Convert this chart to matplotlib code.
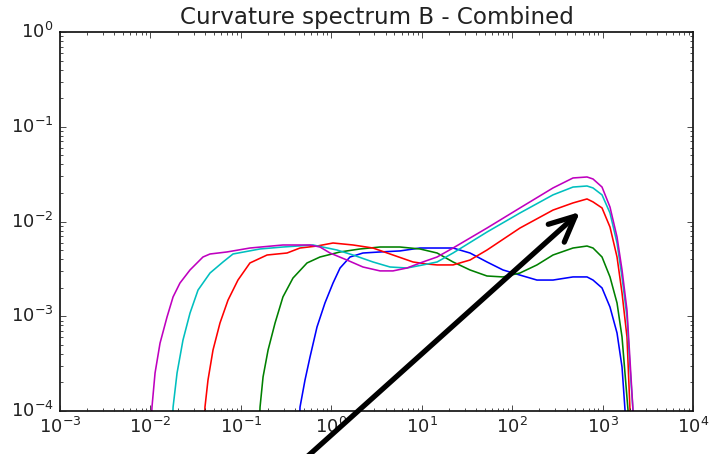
import matplotlib
matplotlib.use('Agg')
import matplotlib.pyplot as plt

# curves (x, spectrum value)
x_b = [0.44, 0.451, 0.512, 0.582, 0.695, 0.851, 1.045, 1.25, 1.61, 2.24, 3.46, 5.75, 9.57,
       14.8, 22.2, 34.2, 52.7, 79.2, 122, 188, 283, 471, 673, 784, 986, 1208, 1445, 1641, 1770, 1820]
y_b = [5e-5, 1.10e-4, 2.12e-4, 3.72e-4, 7.7e-4, 1.38e-3, 2.24e-3, 3.23e-3, 4.22e-3, 4.65e-3, 4.77e-3,
       4.89e-3, 5.25e-3, 5.25e-3, 5.25e-3, 4.65e-3, 3.74e-3, 3.08e-3, 2.72e-3, 2.41e-3, 2.41e-3,
       2.60e-3, 2.60e-3, 2.41e-3, 1.99e-3, 1.25e-3, 6.65e-4, 2.91e-4, 1.03e-4, 5e-5]

x_g = [0.158, 0.163, 0.176, 0.200, 0.239, 0.292, 0.377, 0.539, 0.750, 1.25, 2.08, 3.46, 5.75, 9.57,
       14.8, 22.2, 34.2, 52.7, 79.2, 122, 188, 283, 471, 673, 784, 986, 1208, 1445, 1641, 1910, 1970]
y_g = [5e-5, 1.10e-4, 2.29e-4, 4.4e-4, 8.5e-4, 1.60e-3, 2.53e-3, 3.65e-3, 4.22e-3, 4.77e-3, 5.13e-3,
       5.38e-3, 5.38e-3, 5.13e-3, 4.65e-3, 3.74e-3, 3.08e-3, 2.66e-3, 2.60e-3, 2.86e-3, 3.48e-3,
       4.43e-3, 5.25e-3, 5.51e-3, 5.25e-3, 4.22e-3, 2.60e-3, 1.38e-3, 6.04e-4, 1.03e-4, 5e-5]

x_r = [0.039, 0.0401, 0.0433, 0.0492, 0.0588, 0.0721, 0.0929, 0.126, 0.195, 0.324, 0.451, 0.695,
       1.045, 1.74, 2.89, 4.81, 8.01, 11.4, 14.8, 22.2, 34.2, 52.7, 122, 283, 471, 673, 784, 986,
       1208, 1445, 1641, 1862, 2010, 2060]
y_r = [5e-5, 1.10e-4, 2.12e-4, 4.4e-4, 8.5e-4, 1.48e-3, 2.41e-3, 3.65e-3, 4.43e-3, 4.65e-3, 5.25e-3,
       5.51e-3, 5.93e-3, 5.65e-3, 5.25e-3, 4.43e-3, 3.74e-3, 3.56e-3, 3.48e-3, 3.48e-3, 3.92e-3,
       5.0e-3, 8.53e-3, 0.0132, 0.0157, 0.0173, 0.0161, 0.0139, 8.74e-3, 4.22e-3, 1.76e-3, 6.04e-4,
       1.03e-4, 5e-5]

x_c = [0.0172, 0.0178, 0.0197, 0.0229, 0.0274, 0.0336, 0.0456, 0.0635, 0.0818, 0.163, 0.292, 0.628,
       1.157, 1.74, 2.89, 4.46, 6.87, 10.3, 14.8, 22.2, 52.7, 122, 283, 471, 673, 784, 986, 1208,
       1445, 1641, 1862, 2010, 2168, 2230]
y_c = [5e-5, 1.10e-4, 2.52e-4, 5.6e-4, 1.08e-3, 1.89e-3, 2.86e-3, 3.74e-3, 4.54e-3, 5.13e-3, 5.38e-3,
       5.65e-3, 5.0e-3, 4.43e-3, 3.74e-3, 3.31e-3, 3.23e-3, 3.48e-3, 3.74e-3, 4.65e-3, 7.74e-3,
       0.0123, 0.0191, 0.0231, 0.0237, 0.0226, 0.0191, 0.0123, 5.93e-3, 2.60e-3, 9.8e-4, 2.91e-4,
       1.03e-4, 5e-5]

x_m = [0.0100, 0.0104, 0.01125, 0.01277, 0.01525, 0.0178, 0.0212, 0.0274, 0.0381, 0.0456, 0.0703,
       0.126, 0.292, 0.582, 0.750, 0.968, 1.49, 2.24, 3.46, 4.81, 6.87, 10.3, 14.8, 22.2, 52.7, 122,
       283, 471, 673, 784, 986, 1208, 1445, 1641, 1862, 2010, 2168, 2240]
y_m = [5e-5, 1.10e-4, 2.52e-4, 5.2e-4, 9.8e-4, 1.60e-3, 2.24e-3, 3.08e-3, 4.22e-3, 4.54e-3, 4.77e-3,
       5.25e-3, 5.65e-3, 5.65e-3, 5.38e-3, 4.65e-3, 3.92e-3, 3.31e-3, 3.01e-3, 3.01e-3, 3.23e-3,
       3.74e-3, 4.22e-3, 5.25e-3, 8.53e-3, 0.0139, 0.0226, 0.0288, 0.0295, 0.0281, 0.0231, 0.0142,
       6.86e-3, 3.08e-3, 1.16e-3, 3.45e-4, 1.03e-4, 5e-5]

title = 'Curvature spectrum B - Combined'
arrow_head = (562, 0.0126)
arrow_tail = (0.25, 1.7e-5)

plt.style.use('classic')
plt.rcParams['figure.facecolor'] = 'white'
plt.rcParams['savefig.facecolor'] = 'white'
plt.rcParams['text.color'] = '#222222'
plt.rcParams['xtick.color'] = '#222222'
plt.rcParams['ytick.color'] = '#222222'

fig = plt.figure(figsize=(711 / 115, 454 / 115), dpi=115)
ax = fig.add_axes([60 / 711, 1 - 411 / 454, 633 / 711, 379 / 454])

ax.loglog(x_b, y_b, 'b')
ax.loglog(x_g, y_g, 'g')
ax.loglog(x_r, y_r, 'r')
ax.loglog(x_c, y_c, 'c')
ax.loglog(x_m, y_m, 'm')

ax.set_xlim(1e-3, 1e4)
ax.set_ylim(1e-4, 1e0)
ax.tick_params(labelsize=11.3)
ax.set_title(title)

ax.annotate('', xy=arrow_head, xytext=arrow_tail, annotation_clip=False,
            arrowprops=dict(arrowstyle='->, head_length=1.6, head_width=0.75',
                            mutation_scale=10, lw=3.3, color='k',
                            shrinkA=0, shrinkB=0))

fig.savefig('out.png', dpi=115)
